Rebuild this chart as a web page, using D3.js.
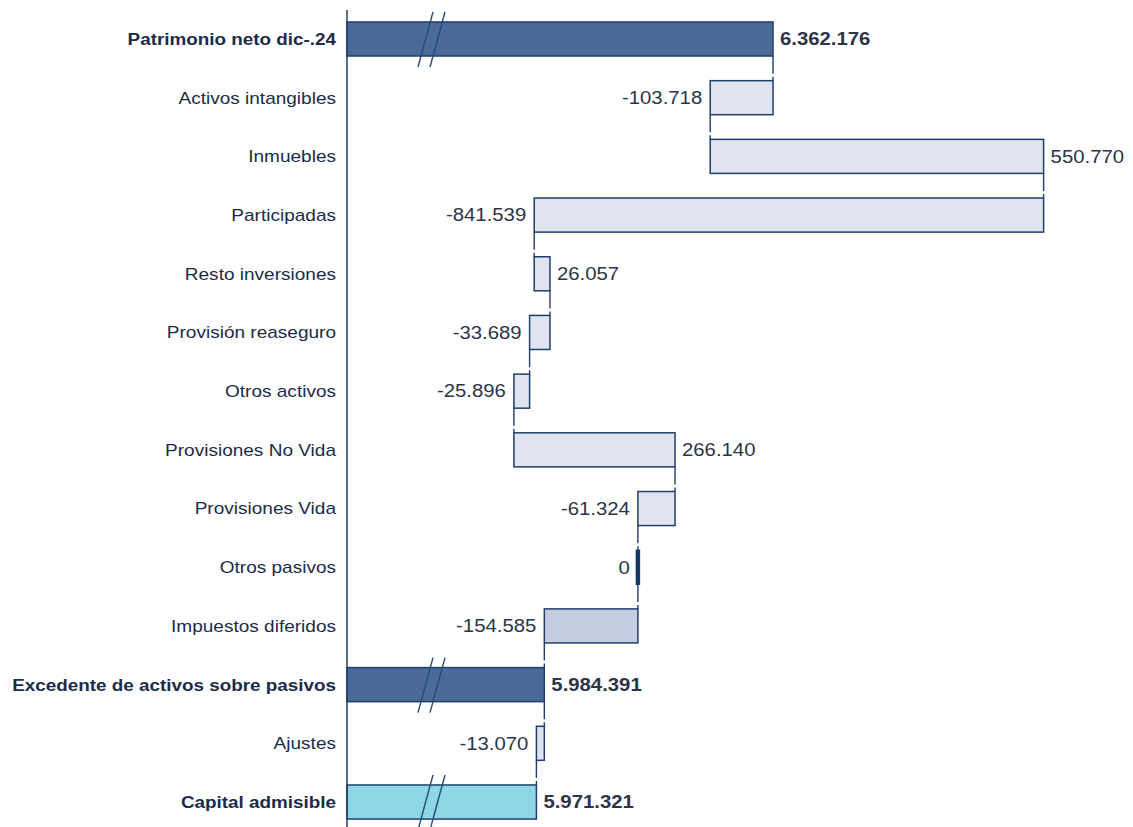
<!DOCTYPE html>
<html>
  <head>
    <meta charset="UTF-8" />
    <script src="https://d3js.org/d3.v7.min.js"></script>
    <style>
      body { margin: 0; background: #fff; }
      text { font-family: "Liberation Sans", Arial, sans-serif; }
    </style>
  </head>
  <body>
    <svg width="1133" height="827"></svg>

    <script>
      const categories = [
        "Patrimonio neto dic-.24",
        "Activos intangibles",
        "Inmuebles",
        "Participadas",
        "Resto inversiones",
        "Provisión reaseguro",
        "Otros activos",
        "Provisiones No Vida",
        "Provisiones Vida",
        "Otros pasivos",
        "Impuestos diferidos",
        "Excedente de activos sobre pasivos",
        "Ajustes",
        "Capital admisible"
      ];
      const values = [
        6362176, -103718, 550770, -841539, 26057, -33689, -25896,
        266140, -61324, 0, -154585, 5984391, -13070, 5971321
      ];
      // "total" bars start at the axis, "delta" bars float
      const kinds = [
        "total", "delta", "delta", "delta", "delta", "delta", "delta",
        "delta", "delta", "delta", "delta", "total", "delta", "total"
      ];

      const fmt = v => d3.format(",")(v).replace(/,/g, ".").replace("\u2212", "-");

      // running totals
      let run = 0;
      const rows = categories.map((c, i) => {
        let start, end;
        if (kinds[i] === "total") {
          start = null; end = values[i];
        } else {
          start = run; end = run + values[i];
        }
        run = end;
        return { name: c, value: values[i], kind: kinds[i], start, end };
      });

      const svg = d3.select("svg");
      const axisX = 347;

      // broken axis: the scale starts well above zero
      const x = d3.scaleLinear()
        .domain([5658400, 6362176])
        .range([axisX, 773]);

      const y = d3.scaleBand()
        .domain(categories)
        .range([9.65, 831.35])
        .paddingInner(0.42)
        .paddingOuter(0.21);

      const navy = "#1f3f6b";
      function fillOf(d) {
        if (d.name === "Capital admisible") return "#8fd7e6";
        if (d.kind === "total") return "#4a6a98";
        if (d.name === "Impuestos diferidos") return "#c5cee0";
        if (d.value === 0) return "#0f2f5f";
        return "#dfe4ee";
      }

      // connectors (solid, with a small break just above the next bar)
      const links = rows.slice(0, -1).map((d, i) => ({ v: d.end, from: d.name, to: rows[i + 1].name }));
      svg.append("g")
        .selectAll("line")
        .data(links)
        .join("line")
        .attr("x1", d => x(d.v))
        .attr("x2", d => x(d.v))
        .attr("y1", d => y(d.from) + y.bandwidth())
        .attr("y2", d => y(d.to))
        .attr("stroke", navy)
        .attr("stroke-width", 1.4)
        .attr("stroke-dasharray", d => {
          const len = y(d.to) - y(d.from) - y.bandwidth();
          return `${len - 7} 3 4`;
        });

      // bars
      svg.append("g")
        .selectAll("rect")
        .data(rows)
        .join("rect")
        .attr("x", d => d.kind === "total" ? axisX : x(Math.min(d.start, d.end)) - (d.value === 0 ? 1.5 : 0))
        .attr("width", d => d.kind === "total" ? x(d.end) - axisX : Math.max(3, Math.abs(x(d.end) - x(d.start))))
        .attr("y", d => y(d.name))
        .attr("height", y.bandwidth())
        .attr("fill", fillOf)
        .attr("stroke", navy)
        .attr("stroke-width", 1.5);

      // break marks on totals
      const brk = svg.append("g");
      rows.filter(d => d.kind === "total").forEach(d => {
        const bx = axisX + 78;
        const top = y(d.name) - 10, bot = y(d.name) + y.bandwidth() + 11;
        [0, 12].forEach(off => {
          brk.append("line")
            .attr("x1", bx + off + 8).attr("y1", top)
            .attr("x2", bx + off - 7).attr("y2", bot)
            .attr("stroke", "#274a78")
            .attr("stroke-width", 1.4);
        });
      });

      // axis line
      svg.append("line")
        .attr("x1", axisX).attr("x2", axisX)
        .attr("y1", 10).attr("y2", 827)
        .attr("stroke", navy)
        .attr("stroke-width", 1.5);

      // category labels (glyphs slightly stretched horizontally, as in the source)
      svg.append("g")
        .selectAll("text")
        .data(rows)
        .join("text")
        .attr("transform", d => `translate(${axisX - 11},${y(d.name) + y.bandwidth() / 2}) scale(${d.kind === "total" ? 1.11 : 1.12},1)`)
        .attr("dy", "0.35em")
        .attr("text-anchor", "end")
        .attr("font-size", 17)
        .attr("font-weight", d => d.kind === "total" ? "bold" : "normal")
        .attr("fill", "#1c2b48")
        .text(d => d.name);

      // value labels
      svg.append("g")
        .selectAll("text")
        .data(rows)
        .join("text")
        .attr("transform", d => {
          let px;
          if (d.kind === "total" || d.value > 0) px = x(d.end) + 7;
          else px = x(Math.min(d.start, d.end)) - 8;
          return `translate(${px},${y(d.name) + y.bandwidth() / 2}) scale(1.13,1)`;
        })
        .attr("dy", "0.35em")
        .attr("text-anchor", d => d.kind === "total" || d.value > 0 ? "start" : "end")
        .attr("font-size", 18)
        .attr("font-weight", d => d.kind === "total" ? "bold" : "normal")
        .attr("fill", "#2e3447")
        .text(d => fmt(d.value));
    </script>
  </body>
</html>
